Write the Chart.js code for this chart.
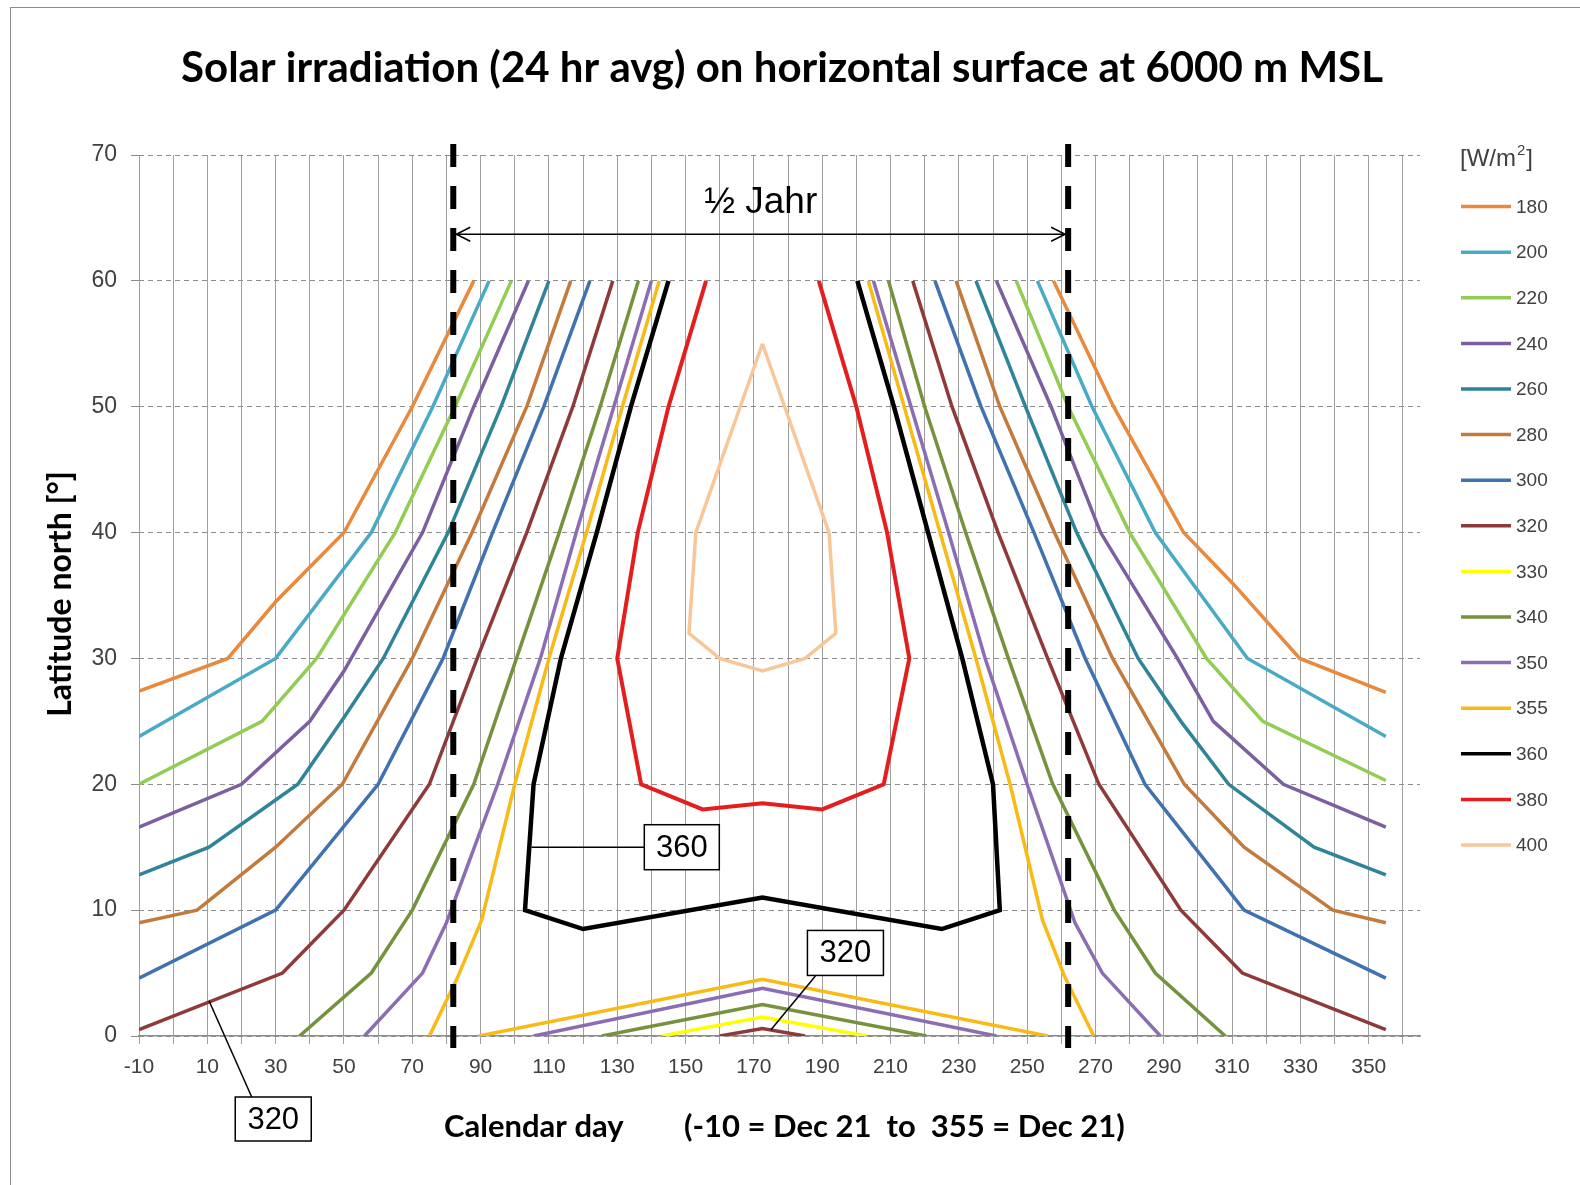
<!DOCTYPE html>
<html>
<head>
<meta charset="utf-8">
<script src="https://cdn.jsdelivr.net/npm/chart.js@4.4.1/dist/chart.umd.min.js"></script>
<style>
  html, body { margin: 0; padding: 0; background: #fff; }
  canvas { display: block; }
</style>
</head>
<body>
<canvas id="chart" width="1580" height="1185"></canvas>
<script>
// Isolines [W/m2], calendar day (-10 = Dec 21) vs latitude north
const levels = [180, 200, 220, 240, 260, 280, 300, 320, 330, 340, 350, 355, 360, 380, 400]
const lineColors = ['#E8893E', '#4AA9C4', '#92CC52', '#7B5FA0', '#2F8497', '#C27A3D', '#3F72AE', '#8E3A3A',
  '#FFFF00', '#76923C', '#8B6DB3', '#F7BA16', '#000000', '#E41E1E', '#F9C797']

// [day, latitude] — spring branch, autumn branch, summer bump near the equator
const w180 = [[-10, 27.4], [16, 30], [30, 34.5], [50, 40], [70, 50], [88, 60]]
const w180e = [[257.7, 60], [275.3, 50], [295.8, 40], [310.4, 35.9], [329.8, 30], [355, 27.3]]
const w200 = [[-10, 23.8], [30, 30], [58, 40], [76, 50], [92.5, 60]]
const w200e = [[253, 60], [269, 50], [287.5, 40], [314.5, 30], [355, 23.8]]
const w220 = [[-10, 20], [26, 25], [42, 30], [65, 40], [82.5, 50], [99, 60]]
const w220e = [[246.8, 60], [262, 50], [280, 40], [302.5, 30], [319, 25], [355, 20.3]]
const w240 = [[-10, 16.6], [20, 20], [40, 25], [50, 29], [73, 40], [88, 50], [104, 60]]
const w240e = [[241, 60], [257, 50], [271.5, 40], [294, 30], [304.5, 25], [325, 20], [355, 16.6]]
const w260 = [[-10, 12.8], [10.5, 15], [36.5, 20], [50, 25.3], [61.5, 30], [80.5, 40], [96, 50], [110, 60]]
const w260e = [[235, 60], [249.5, 50], [264.5, 40], [282.5, 30], [295, 25], [309, 20], [334, 15], [355, 12.8]]
const w280 = [[-10, 9], [7, 10], [30, 15], [49.5, 20], [70, 30], [87.5, 40], [103.5, 50], [116.4, 60]]
const w280e = [[229.2, 60], [242, 50], [258, 40], [275, 30], [296, 20], [313.5, 15], [339.5, 10], [355, 9]]
const w300 = [[-10, 4.6], [30, 10], [60, 20], [79, 30], [93.5, 40], [108.5, 50], [122, 60]]
const w300e = [[223, 60], [236.5, 50], [252, 40], [267, 30], [284.5, 20], [313.5, 10], [355, 4.6]]
const w320 = [[-10, 0.5], [32, 5], [50, 10], [75, 20], [89, 30], [103.5, 40], [117, 50], [128.7, 60]]
const w320e = [[216.5, 60], [228, 50], [241.5, 40], [256, 30], [271, 20], [295, 10], [313, 5], [355, 0.5]]
const w320c = [[160, 0], [172.5, 0.6], [185, 0]]
const w330c = [[143, 0], [172.5, 1.5], [203, 0]]
const w340 = [[37, 0], [58, 5], [70, 10], [88, 20], [100.5, 30], [113, 40], [125, 50], [136.2, 60]]
const w340e = [[209.4, 60], [220, 50], [232, 40], [244.5, 30], [257.5, 20], [275.5, 10], [287.5, 5], [308, 0]]
const w340c = [[125.5, 0], [172.5, 2.5], [220.5, 0]]
const w350 = [[56, 0], [73, 5], [80, 9], [95, 20], [107.5, 30], [118, 40], [129, 50], [140, 60]]
const w350e = [[205, 60], [216, 50], [227, 40], [237.7, 30], [250, 20], [264, 9], [272, 5], [289, 0]]
const w350c = [[105.5, 0], [172.5, 3.8], [241, 0]]
const w355 = [[75, 0], [83, 4.5], [90.3, 9.2], [100, 20], [110, 30], [121, 40], [131.5, 50], [142.3, 60]]
const w355e = [[203.5, 60], [214, 50], [224.5, 40], [235, 30], [245, 20], [254.5, 9.2], [261, 4.7], [269.5, 0]]
const w355c = [[89.5, 0], [172.5, 4.5], [256, 0]]
const w360 = [[145, 60], [134, 50], [124, 40], [113.5, 30], [105.5, 20], [103, 10], [120, 8.5], [172.5, 11],
  [225, 8.5], [242, 10], [240, 20], [231, 30], [221, 40], [211, 50], [200.3, 60]]
const w380 = [[156, 60], [145, 50], [136, 40], [130, 30], [137, 20], [155, 18], [172.5, 18.5], [190, 18],
  [208, 20], [215.5, 30], [209, 40], [200, 50], [189, 60]]
const w400 = [[172.5, 55], [153, 40], [151, 32], [160, 30], [172.5, 29], [185, 30], [194, 32], [192, 40], [172.5, 55]]

const curves = {
  180: [w180, w180e], 200: [w200, w200e], 220: [w220, w220e], 240: [w240, w240e],
  260: [w260, w260e], 280: [w280, w280e], 300: [w300, w300e], 320: [w320, w320e, w320c],
  330: [w330c], 340: [w340, w340e, w340c], 350: [w350, w350e, w350c], 355: [w355, w355e, w355c],
  360: [w360], 380: [w380], 400: [w400]
}

// equinox markers (½ year apart)
const halfYear = [82, 262]

const datasets = []
levels.forEach((lv, i) => {
  curves[lv].forEach(part => {
    datasets.push({
      label: String(lv),
      data: part.map(p => ({ x: p[0], y: p[1] })),
      showLine: true,
      borderColor: lineColors[i],
      borderWidth: lv === 360 ? 4.5 : (lv === 380 ? 4 : 3.5),
      pointRadius: 0,
      tension: 0,
      fill: false
    })
  })
})

const decor = {
  id: 'decor',
  beforeDraw(chart) {
    const c = chart.ctx
    c.save()
    c.fillStyle = '#fff'
    c.fillRect(0, 0, chart.width, chart.height)
    c.strokeStyle = '#8c8c8c'
    c.lineWidth = 1
    c.strokeRect(10.5, 7.5, chart.width + 20, chart.height + 20)
    c.restore()
  },
  afterDatasetsDraw(chart) {
    const c = chart.ctx
    const sx = chart.scales.x, sy = chart.scales.y
    const area = chart.chartArea
    const xa = sx.getPixelForValue(halfYear[0]), xb = sx.getPixelForValue(halfYear[1])

    c.save()
    // dashed equinox lines
    c.strokeStyle = '#000'
    c.lineWidth = 6
    c.setLineDash([23, 19])
    ;[xa, xb].forEach(x => {
      c.beginPath()
      c.moveTo(x, area.top - 11)
      c.lineTo(x, area.bottom + 12)
      c.stroke()
    })
    c.setLineDash([])

    // double arrow
    const ya = sy.getPixelForValue(63.7)
    c.lineWidth = 1.5
    c.beginPath()
    c.moveTo(xa + 3, ya); c.lineTo(xb - 3, ya)
    c.moveTo(xa + 17, ya - 7); c.lineTo(xa + 3, ya); c.lineTo(xa + 17, ya + 7)
    c.moveTo(xb - 17, ya - 7); c.lineTo(xb - 3, ya); c.lineTo(xb - 17, ya + 7)
    c.stroke()
    c.fillStyle = '#000'
    c.font = '37px "Liberation Sans", Arial, sans-serif'
    c.textAlign = 'center'
    c.textBaseline = 'middle'
    c.fillText('½ Jahr', (xa + xb) / 2, sy.getPixelForValue(66.2))

    const box = (cx, cy, w, h, txt) => {
      c.fillStyle = '#fff'
      c.fillRect(cx - w / 2, cy - h / 2, w, h)
      c.strokeStyle = '#000'
      c.lineWidth = 1.5
      c.strokeRect(cx - w / 2, cy - h / 2, w, h)
      c.fillStyle = '#000'
      c.font = '31px "Liberation Sans", Arial, sans-serif'
      c.fillText(txt, cx, cy + 1)
    }
    const line = (x1, y1, x2, y2) => {
      c.strokeStyle = '#000'
      c.lineWidth = 1.5
      c.beginPath(); c.moveTo(x1, y1); c.lineTo(x2, y2); c.stroke()
    }

    // 360 label
    let bx = sx.getPixelForValue(148.9), by = sy.getPixelForValue(15.0)
    line(sx.getPixelForValue(104.9), by, bx - 37, by)
    box(bx, by, 75, 45, '360')

    // 320 label on the summer bump
    bx = sx.getPixelForValue(196.8); by = sy.getPixelForValue(6.6)
    line(bx - 30, by + 23, sx.getPixelForValue(175), sy.getPixelForValue(0.5))
    box(bx, by, 76, 45, '320')

    // 320 label below the axis
    bx = sx.getPixelForValue(29.3); by = area.bottom + 83
    line(sx.getPixelForValue(10.5), sy.getPixelForValue(2.8), sx.getPixelForValue(23), by - 22)
    box(bx, by, 76, 44, '320')
    c.restore()
  },
  afterDraw(chart) {
    const c = chart.ctx
    const area = chart.chartArea
    c.save()
    c.fillStyle = '#000'
    c.textBaseline = 'middle'
    c.textAlign = 'center'
    c.font = 'bold 42px Lato, "Open Sans", sans-serif'
    c.fillText('Solar irradiation (24 hr avg) on horizontal surface at 6000 m MSL', 782, 68)

    c.font = 'bold 31px Lato, "Open Sans", sans-serif'
    c.textAlign = 'left'
    c.fillText('Calendar day', 444, 1127)
    c.fillText('(-10 = Dec 21  to  355 = Dec 21)', 684, 1127)

    c.save()
    c.translate(61, 594)
    c.rotate(-Math.PI / 2)
    c.textAlign = 'center'
    c.font = 'bold 32px Lato, "Open Sans", sans-serif'
    c.fillText('Latitude north [°]', 0, 0)
    c.restore()

    // legend
    const lx = area.right + 41
    c.fillStyle = '#404040'
    c.textAlign = 'left'
    let tx = lx - 1
    const ty = area.top + 4
    c.font = '24px "Liberation Sans", Arial, sans-serif'
    c.fillText('[W/m', tx, ty)
    tx += c.measureText('[W/m').width
    c.font = '15px "Liberation Sans", Arial, sans-serif'
    c.fillText('2', tx + 1, ty - 8)
    tx += c.measureText('2').width + 2
    c.font = '24px "Liberation Sans", Arial, sans-serif'
    c.fillText(']', tx, ty)

    c.font = '19px "Liberation Sans", Arial, sans-serif'
    levels.forEach((lv, i) => {
      const y = area.top + 51.6 + i * 45.6
      c.strokeStyle = lineColors[i]
      c.lineWidth = 3.5
      c.beginPath(); c.moveTo(lx, y); c.lineTo(lx + 50, y); c.stroke()
      c.fillStyle = '#404040'
      c.fillText(String(lv), lx + 55, y + 1)
    })
    c.restore()
  }
}

new Chart(document.getElementById('chart'), {
  type: 'scatter',
  data: { datasets },
  options: {
    responsive: false,
    animation: false,
    layout: { padding: { top: 155, right: 160, bottom: 0, left: 0 } },
    plugins: { legend: { display: false }, tooltip: { enabled: false } },
    scales: {
      x: {
        type: 'linear',
        min: -10,
        max: 365,
        afterFit(s) { s.height = 149 },
        ticks: {
          stepSize: 10,
          includeBounds: false,
          autoSkip: false,
          maxRotation: 0,
          padding: 11,
          color: '#404040',
          font: { family: '"Liberation Sans", Arial, sans-serif', size: 21 },
          callback: v => ((v + 10) % 20 === 0 ? String(v) : '')
        },
        grid: { color: '#A0A0A0', lineWidth: 1, tickLength: 8 },
        border: { color: '#8C8C8C', width: 1.5 }
      },
      y: {
        min: 0,
        max: 70,
        afterFit(s) { s.width = 139 },
        ticks: { stepSize: 10, padding: 14, color: '#404040', font: { family: '"Liberation Sans", Arial, sans-serif', size: 23 } },
        grid: { color: '#8C8C8C', lineWidth: 1, tickLength: 8 },
        border: { display: false, dash: [5, 4] }
      }
    }
  },
  plugins: [decor]
})
</script>
</body>
</html>
